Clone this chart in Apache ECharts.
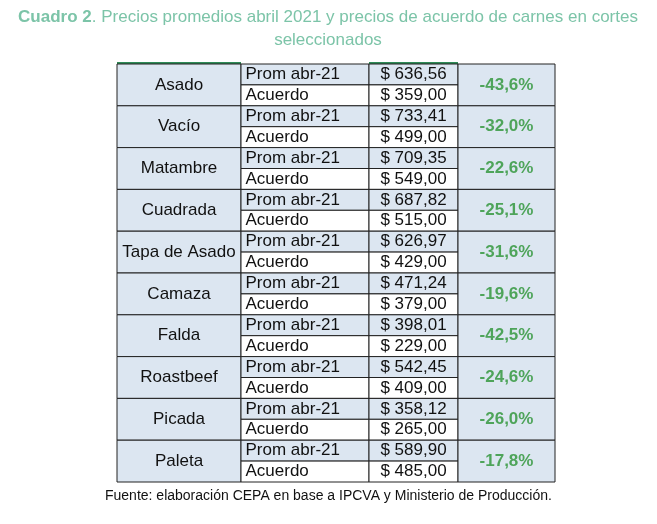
<!DOCTYPE html>
<html><head><meta charset="utf-8">
<script src="https://cdn.jsdelivr.net/npm/echarts@6/dist/echarts.min.js"></script>
<style>html,body{margin:0;padding:0;background:#fff}#chart{width:657px;height:524px}</style>
</head><body><div id="chart"></div>
<script>
var cortes = ['Asado','Vacío','Matambre','Cuadrada','Tapa de Asado','Camaza','Falda','Roastbeef','Picada','Paleta'];
var rowLabels = ['Prom abr-21','Acuerdo'];
var promAbr = ['636,56','733,41','709,35','687,82','626,97','471,24','398,01','542,45','358,12','589,90'];
var acuerdo = ['359,00','499,00','549,00','515,00','429,00','379,00','229,00','409,00','265,00','485,00'];
var variacion = ['-43,6%','-32,0%','-22,6%','-25,1%','-31,6%','-19,6%','-42,5%','-24,6%','-26,0%','-17,8%'];

var cols = [0, 124, 252, 341, 438];
var blue = '#dce6f1';
var font = '"Liberation Sans", Arial, sans-serif';

function cell(api, c0, c1, r0, r1, fill, text, style) {
    var p0 = api.coord([cols[c0], r0]);
    var p1 = api.coord([cols[c1], r1]);
    var s = Object.assign({ text: text, fill: '#111', font: '17px ' + font, align: 'center', verticalAlign: 'middle' }, style || {});
    return {
        type: 'rect',
        shape: { x: p0[0], y: p0[1], width: p1[0] - p0[0], height: p1[1] - p0[1] },
        style: { fill: fill, stroke: '#222', lineWidth: 1 },
        textContent: { style: s },
        textConfig: { position: s.align === 'left' ? 'insideLeft' : 'inside', distance: 5 }
    };
}

var chart = echarts.init(document.getElementById('chart'));
chart.setOption({
    animation: false,
    graphic: [
        { type: 'text', x: 328, y: 6, style: {
            text: '{b|Cuadro 2}. Precios promedios abril 2021 y precios de acuerdo de carnes en cortes\nseleccionados',
            align: 'center', fill: '#7cc4a8', font: '17px ' + font, lineHeight: 23,
            rich: { b: { fontWeight: 'bold', fill: '#7cc4a8', fontSize: 17, fontFamily: font } } } },
        { type: 'text', left: 105, top: 489, style: { text: 'Fuente: elaboración CEPA en base a IPCVA y Ministerio de Producción.', fill: '#111', font: '14px ' + font } },
        { type: 'line', shape: { x1: 117, y1: 63, x2: 241, y2: 63 }, style: { stroke: '#2e8b57', lineWidth: 2 } },
        { type: 'line', shape: { x1: 369, y1: 63, x2: 458, y2: 63 }, style: { stroke: '#2e8b57', lineWidth: 2 } }
    ],
    grid: { left: 117, right: 102, top: 64, bottom: 42 },
    xAxis: { type: 'value', min: 0, max: 438, show: false },
    yAxis: { type: 'value', min: 0, max: 20, inverse: true, show: false },
    series: [{
        type: 'custom',
        data: cortes.map(function (n, i) { return [i]; }),
        renderItem: function (params, api) {
            var i = api.value(0);
            var r = i * 2;
            return {
                type: 'group',
                children: [
                    cell(api, 0, 1, r, r + 2, blue, cortes[i]),
                    cell(api, 1, 2, r, r + 1, blue, rowLabels[0], { align: 'left' }),
                    cell(api, 1, 2, r + 1, r + 2, '#fff', rowLabels[1], { align: 'left' }),
                    cell(api, 2, 3, r, r + 1, blue, '$ ' + promAbr[i]),
                    cell(api, 2, 3, r + 1, r + 2, '#fff', '$ ' + acuerdo[i]),
                    cell(api, 3, 4, r, r + 2, blue, variacion[i], { fill: '#4ea45a', font: 'bold 17px ' + font })
                ]
            };
        }
    }]
});
</script></body></html>
